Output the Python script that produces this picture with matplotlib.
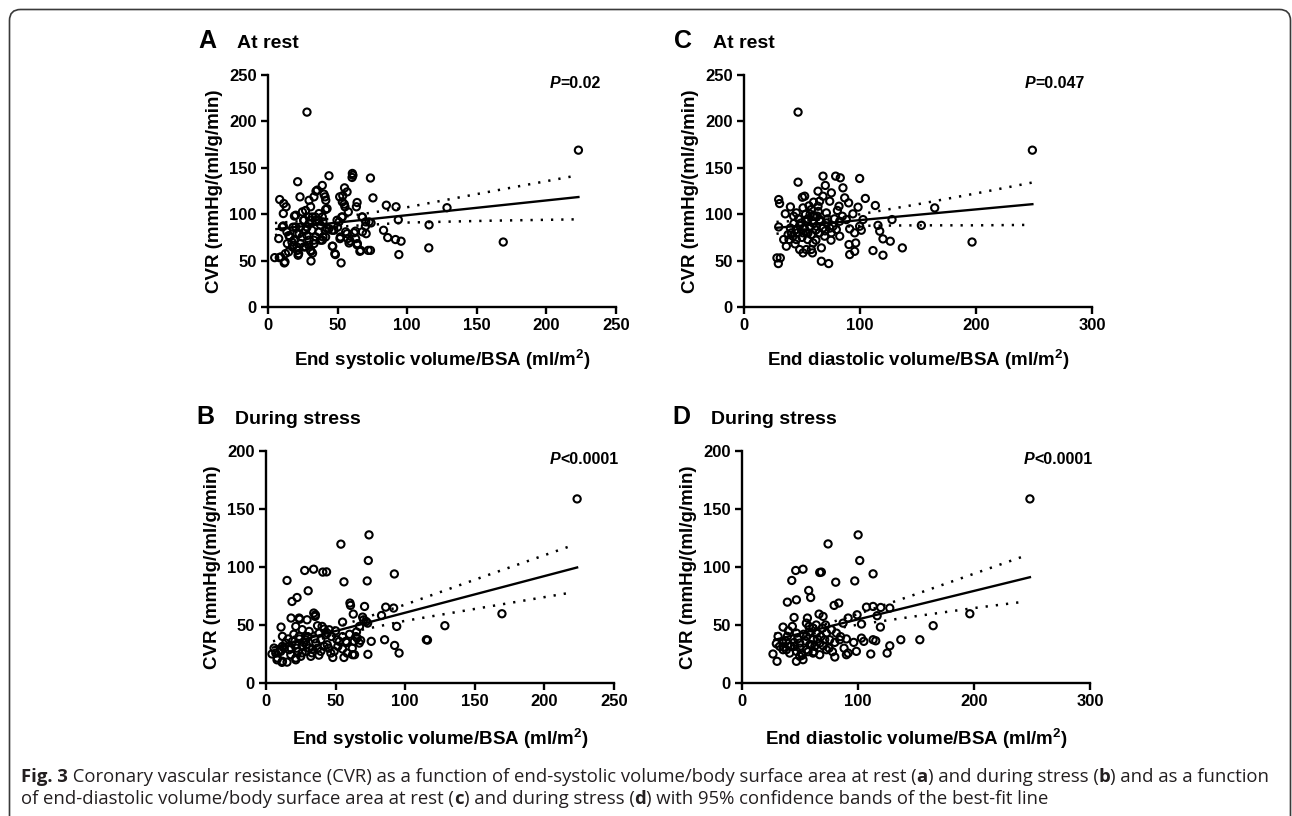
import matplotlib

matplotlib.use("Agg")

import matplotlib.pyplot as plt  # noqa: E402
import numpy as np  # noqa: E402
from matplotlib.patches import FancyBboxPatch  # noqa: E402
from matplotlib.transforms import IdentityTransform  # noqa: E402

plt.rcParams["font.family"] = ["Liberation Sans", "DejaVu Sans"]
plt.rcParams["mathtext.default"] = "regular"

W, H = 1292, 816

# ---- panel A: CVR at rest vs ESV/BSA ----
a_pts = [
    (28, 210), (223, 169), (169, 70), (128.6, 107), (115.7, 88.5), (115.5, 63.7), (94, 56.5),
    (95.6, 70.9), (93.6, 94), (92, 108), (91.6, 72.7), (85, 109.7), (86, 74.8), (83, 82.7),
    (75.4, 117.6), (73.6, 139), (73.6, 61), (72, 61), (74, 90.6), (70.5, 79), (70, 87),
    (67.6, 97), (64, 112.6), (63.5, 108), (62.8, 81.7), (66, 60), (64, 67), (61, 142),
    (60.4, 139.6), (56.8, 124), (55, 128.4), (53.7, 120), (51.5, 118.7), (54.8, 110.8),
    (57.7, 102.5), (53, 97), (56.8, 79), (59, 71), (57.2, 73.7), (52, 75.5), (50, 86),
    (52.5, 47.5), (48.4, 56.5), (46.5, 65.5), (43.8, 141.4), (42.4, 84.5), (39.5, 91.7),
    (39, 131), (41, 118.7), (41.5, 115), (42.4, 106), (39.5, 75.5), (37.7, 72), (39, 97),
    (34.5, 124.8), (33, 118.7), (30.6, 108), (29.5, 97), (27, 104), (23, 118.7), (21.3, 135),
    (19, 98), (18, 86), (25.6, 93.5), (30.6, 93.5), (31.6, 82.7), (29.2, 66.5), (30.9, 60),
    (32, 58), (30.9, 49.6), (22, 57.5), (20.8, 64.7), (17.2, 70), (14.8, 59.4), (12.5, 57.5),
    (11.7, 47.5), (8.4, 115.8), (11.3, 111.5), (13, 108), (11, 100.7), (11, 87.4), (7.7, 73.7),
    (4.8, 53.2), (8.1, 53.2), (13.6, 81), (15.6, 75.5), (20.8, 79), (24.4, 75.5), (23, 86),
    (28, 86), (34, 97), (36.4, 93.5), (28, 77), (33, 72), (41, 82.7), (46, 82.7), (49.6, 93.5),
    (18.4, 66.5), (25.6, 64.7), (60.6, 143.9), (35.4, 126), (40.2, 121.6), (29.5, 115),
    (53.4, 113.3), (55.3, 108), (41.4, 105), (36.6, 100.7), (24.7, 102.5), (19.9, 98.9),
    (25.9, 93.5), (31.9, 97), (67.8, 97), (70.2, 91.7), (72.6, 91.7), (53.4, 97), (51, 91.7),
    (47.4, 82.7), (43.8, 84.5), (37.8, 88), (34.3, 93.5), (29.5, 90), (10.3, 86.3), (19.9, 86.3),
    (22.3, 79), (27, 82.7), (15, 77), (18.7, 72), (13.9, 68.3), (17.5, 64.7), (21, 61),
    (23.5, 68.3), (29.5, 72), (34.3, 75.5), (39, 72), (36.6, 81), (55.8, 81), (61.8, 80),
    (63, 73.7), (67.8, 81), (64.2, 68.3), (58.2, 69), (51.7, 73.7), (46.2, 65.5), (48, 57.5),
    (66.6, 61), (30.7, 61), (21.6, 55.8), (9.1, 54), (12.2, 48.6), (27, 64.7), (33, 68.3),
    (41.4, 75.5),
]
a_fit_x = [6, 223]
a_fit_y = [84, 118.5]
a_band_x = [5, 45, 100, 160, 223]
a_upper = [90.5, 95, 107.5, 124.5, 142]
a_lower = [77.5, 86, 91, 93, 94.5]

# ---- panel B: CVR during stress vs ESV/BSA ----
b_pts = [
    (223.5, 158.7), (74, 127.7), (53.8, 119.7), (73.5, 105.6), (72.7, 88), (56, 87.2),
    (92.2, 94), (40.8, 95.6), (43.5, 95.8), (27.8, 97), (34.2, 98.1), (15.1, 88.4), (30.3, 79.5),
    (22.3, 73.7), (18.7, 70.3), (169.5, 59.7), (128.5, 49.4), (115.2, 37.3), (116, 37),
    (93.9, 48.8), (91.7, 64.6), (86, 65.4), (83, 58.2), (85.2, 37.3), (92.4, 32.4), (95.6, 25.8),
    (73.2, 24.7), (75.6, 35.9), (70.8, 66), (69.4, 56.8), (72, 53), (67.2, 48.8), (60.3, 68.9),
    (60.7, 66.9), (62.7, 59.4), (55, 52.5), (65.5, 38.7), (68, 36.7), (63.6, 24.4), (56, 22),
    (58.3, 25.8), (51.6, 31.6), (51, 37.3), (44, 43), (40.3, 48.8), (35.5, 58.8), (34.3, 60.3),
    (29.5, 54.5), (24.2, 55), (18, 56), (10.8, 48.2), (4.3, 25), (7.9, 20), (11.5, 17.8),
    (15.1, 18), (21.4, 20), (10.3, 28.7), (70.1, 54.5), (73, 51.6), (64.6, 40), (63.4, 35.9),
    (67, 34.4), (57.4, 35.9), (55, 40), (52.6, 35.9), (55, 29.3), (62.2, 24.4), (49, 27.3),
    (46.6, 25.8), (41.8, 31.6), (43, 41.6), (41.8, 46.5), (37, 49.4), (35.3, 57.4), (23.8, 56),
    (21.4, 48.8), (26, 46), (31, 44.5), (38.2, 43), (11.8, 40.2), (11.8, 31.6), (7, 25.8),
    (8.2, 21.5), (11.8, 18.7), (21.4, 21.5), (16.6, 28.7), (21.4, 33), (26.2, 31.6), (28.6, 27.3),
    (32.2, 23), (33.4, 29.3), (28.6, 37.3), (23.8, 40.2), (19, 35.9), (14.2, 34.4), (35.8, 34.4),
    (39.4, 37.3), (45.4, 45.9), (39.4, 27.3), (25, 23), (17.8, 24.4), (10.6, 27.3), (5.8, 30.1),
    (13, 30), (18, 30), (23, 27), (27, 35), (31, 30), (24, 38), (20, 42), (30, 40), (35, 38),
    (37, 30), (16, 38), (26, 26), (22, 30), (29, 33), (33, 26), (44, 33), (47, 40), (50, 45),
    (60, 42), (58, 35), (65, 44), (45, 30), (38, 24), (48, 22), (62, 30),
]
b_fit_x = [5, 223.5]
b_fit_y = [30.6, 99.6]
b_band_x = [5, 45, 100, 160, 221]
b_upper = [36, 46, 67.6, 93.3, 119]
b_lower = [25, 40, 53.6, 65.9, 78.3]

# ---- panel C: CVR at rest vs EDV/BSA ----
c_pts = [
    (46.6, 210), (248.6, 169), (196.6, 70), (164.4, 106.8), (152.9, 88), (136.5, 63.7),
    (127.6, 94.2), (126.1, 70.9), (119.8, 55.8), (119.8, 73.4), (117, 81.7), (115.5, 88),
    (113.2, 109.4), (111.2, 60.8), (104.6, 117), (102.6, 94.2), (99.7, 138.5), (99.7, 87),
    (101.1, 82.7), (98.3, 107.6), (95.4, 60), (96.3, 69), (95.4, 79.9), (91.1, 56.5),
    (90.5, 67.3), (91.1, 84.2), (93.9, 100.4), (90.2, 112.2), (86.8, 117.6), (85.3, 128.4),
    (83, 139.2), (79, 141), (81.9, 108.6), (80.5, 104), (84.8, 97.8), (82.5, 76.3), (75.3, 123),
    (73.9, 114), (70.1, 131), (68.1, 141), (68.1, 119.4), (63.8, 124.8), (65.2, 114),
    (66.7, 63.7), (66.7, 49.3), (73, 46.8), (59, 58.3), (52.3, 119.4), (50.3, 118.3),
    (50.9, 106.8), (46.6, 134.5), (45.1, 101.4), (42.8, 97.8), (40, 107.9), (35.6, 100.4),
    (29.9, 115.8), (30.7, 111.5), (29.9, 86.3), (34.2, 72.7), (36.5, 65.5), (28.4, 52.9),
    (31.3, 52.9), (29.6, 46.8), (40.8, 79.9), (45.1, 72.7), (48, 61.9), (50.9, 58.3),
    (53.7, 61.9), (56.6, 87), (59.5, 97.8), (53.7, 79.9), (62.4, 87), (65.2, 94.2), (71, 90.6),
    (76.7, 87), (75.3, 79.9), (69.5, 76.3), (59.5, 69), (54.9, 72.7), (50.9, 79.9), (45.1, 83.5),
    (42.2, 76.3), (38.8, 72.7), (79.6, 83.5), (82.5, 92.4), (88.2, 94.2), (71, 101.4),
    (58, 105), (60.9, 97.8), (63.8, 108.6), (55.2, 79.9), (49.4, 90.6), (55, 95), (57, 100),
    (60, 90), (62, 83), (65, 80), (58, 78), (52, 85), (48, 88), (46, 80), (68, 85), (72, 95),
    (70, 82), (66, 92), (63, 98), (54, 92), (50, 75), (44, 68), (40, 85), (38, 78), (58, 62),
    (62, 72), (75, 72), (78, 95), (74, 85), (56, 109), (60, 113), (64, 103), (47, 95), (43, 90),
    (53, 100),
]
c_fit_x = [28, 248.6]
c_fit_y = [85.3, 110.8]
c_band_x = [28, 65, 100, 150, 200, 248]
c_upper = [91.7, 94.1, 99.9, 110.8, 122.4, 134]
c_lower = [78.9, 85.1, 87.5, 88, 88, 88.5]

# ---- panel D: CVR during stress vs EDV/BSA ----
d_pts = [
    (248.2, 158.7), (196.4, 59.7), (164.8, 49.4), (153.3, 37.3), (136.9, 37.3), (127.4, 32.1),
    (125.1, 25.8), (127.4, 64.6), (119.6, 65.1), (119.3, 48.2), (116.5, 58), (113, 66),
    (113, 94.1), (115.3, 36.4), (113, 37.3), (111, 25), (107.3, 65.4), (101.5, 105.6),
    (100.1, 127.7), (97.2, 88), (99.2, 58.8), (103, 50.8), (103, 38.7), (105, 35.9),
    (98.6, 27.3), (91.5, 25.8), (90, 24.4), (96.3, 35), (91.5, 56), (87.1, 51.6), (84.3, 37.3),
    (83.4, 68.9), (79.4, 66.9), (80.8, 86.9), (80, 22.4), (74.2, 119.9), (68.4, 95.6),
    (67, 95.3), (69.9, 57.4), (66.4, 59.4), (69.3, 47.3), (59.2, 73.7), (57.5, 79.8),
    (56.4, 56), (57.8, 48.8), (52.6, 98.1), (46.3, 97), (42.9, 88.4), (46.9, 71.7), (39.1, 69.7),
    (44.9, 56.5), (43.4, 48.8), (35.4, 48.2), (39.1, 40.2), (29.6, 33.9), (26.7, 25),
    (30.2, 18.7), (46.9, 18.7), (52.6, 20.1), (61.3, 25.8), (67, 24.4), (72.8, 28.7),
    (75.6, 37.3), (81.4, 43), (61.3, 37.3), (55.5, 40.2), (49.8, 34.4), (45.3, 31.6),
    (38.3, 28.7), (35.4, 34.4), (41.1, 25.8), (55.5, 28.7), (58.4, 33), (64.1, 43), (67, 34.4),
    (71.3, 37.3), (51.2, 25.8), (46.9, 27.3), (35.4, 28.7), (32.5, 31.6), (62.7, 31.6),
    (72.8, 43), (77.1, 45.9), (46.9, 43), (55.5, 51.6), (61.3, 47.3), (31.1, 40.2), (49.8, 23),
    (45, 35), (50, 30), (55, 36), (60, 33), (65, 38), (70, 32), (53, 42), (58, 44), (48, 38),
    (42, 32), (38, 36), (62, 27), (68, 40), (75, 30), (80, 35), (85, 40), (90, 38), (78, 27),
    (57, 27), (52, 24), (36, 31), (40, 45), (64, 50), (72, 50), (88, 30),
]
d_fit_x = [28, 248.2]
d_fit_y = [37.2, 91.2]
d_band_x = [28, 68, 100, 150, 200, 245]
d_upper = [42.5, 49.5, 59.5, 76.6, 94.2, 110]
d_lower = [31.9, 44.5, 50.3, 57.6, 64.6, 70.3]

ESV_LABEL = "End systolic volume/BSA (ml/m$^{2}$)"
EDV_LABEL = "End diastolic volume/BSA (ml/m$^{2}$)"
Y_LABEL = "CVR (mmHg/(ml/g/min)"


def draw_panel(ax, pts, xmax, xstep, ymax, ystep, fit_x, fit_y, band_x, upper, lower,
               xlabel, xlab_y, ptext, pxy, pop):
    xs, ys = zip(*pts)
    ax.scatter(xs, ys, s=27, facecolors="none", edgecolors="black", linewidths=1.5,
               zorder=3, clip_on=False)
    ax.plot(fit_x, fit_y, color="black", lw=1.7, zorder=4)
    for band in (upper, lower):
        ax.plot(band_x, band, color="black", lw=1.8, ls=(0, (0.9, 3.2)), zorder=4)
    ax.set_xlim(0, xmax)
    ax.set_ylim(0, ymax)
    ax.set_xticks(np.arange(0, xmax + 1, xstep))
    ax.set_yticks(np.arange(0, ymax + 1, ystep))
    for s in ("top", "right"):
        ax.spines[s].set_visible(False)
    for s in ("left", "bottom"):
        ax.spines[s].set_linewidth(1.7)
    ax.tick_params(direction="out", length=5, width=1.7, labelsize=12, pad=3)
    for lab in ax.get_xticklabels() + ax.get_yticklabels():
        lab.set_fontweight("bold")
    ax.set_xlabel(xlabel, fontsize=13.5, fontweight="bold")
    ax.set_ylabel(Y_LABEL, fontsize=13.5, fontweight="bold")
    ax.xaxis.set_label_coords(0.5, xlab_y)
    ax.yaxis.set_label_coords(-0.128, 0.5)
    t = ax.text(pxy[0], pxy[1], pop + ptext, ha="right", va="bottom", fontsize=11.5,
                fontweight="bold")
    ax.annotate("P", xy=(0, 0), xycoords=t, ha="right", va="bottom", fontsize=11.5,
                fontweight="bold", fontstyle="italic")


fig = plt.figure(figsize=(W / 100, H / 100), dpi=100)

panels = [
    (268, 307, a_pts, 250, 50, 250, 50, a_fit_x, a_fit_y, a_band_x, a_upper, a_lower,
     ESV_LABEL, -0.177, "0.02", (239, 233), "=", "A", "At rest", 198, 47.5),
    (266, 683, b_pts, 250, 50, 200, 50, b_fit_x, b_fit_y, b_band_x, b_upper, b_lower,
     ESV_LABEL, -0.19, "0.0001", (253, 186), "<", "B", "During stress", 196, 423.5),
    (744, 307, c_pts, 300, 100, 250, 50, c_fit_x, c_fit_y, c_band_x, c_upper, c_lower,
     EDV_LABEL, -0.177, "0.047", (293.5, 233), "=", "C", "At rest", 674, 47.5),
    (742, 683, d_pts, 300, 100, 200, 50, d_fit_x, d_fit_y, d_band_x, d_upper, d_lower,
     EDV_LABEL, -0.19, "0.0001", (302.5, 186), "<", "D", "During stress", 672, 423.5),
]

for (left, bottom, pts, xmax, xstep, ymax, ystep, fx, fy, bx, up, lo, xl, xly, ptxt, pxy,
     pop, letter, title, lx, ly) in panels:
    ax = fig.add_axes((left / W, 1 - bottom / H, 348 / W, 232 / H))
    draw_panel(ax, pts, xmax, xstep, ymax, ystep, fx, fy, bx, up, lo, xl, xly, ptxt, pxy,
               pop)
    fig.text(lx / W, 1 - ly / H, letter, fontsize=18, fontweight="bold", va="baseline")
    fig.text((lx + 39) / W, 1 - ly / H, title, fontsize=14, fontweight="bold",
             va="baseline")

# caption
cap = fig.add_axes((0, 0, 1, 1))
cap.axis("off")
cap.set_xlim(0, W)
cap.set_ylim(H, 0)
CAP_FONT = ["Open Sans", "DejaVu Sans"]
CAP_SIZE = 13.3
lines = [
    [("Fig. 3", "bold"),
     (" Coronary vascular resistance (CVR) as a function of end-systolic volume/body "
      "surface area at rest (", "normal"), ("a", "bold"), (") and during stress (", "normal"),
     ("b", "bold"), (") and as a function", "normal")],
    [("of end-diastolic volume/body surface area at rest (", "normal"), ("c", "bold"),
     (") and during stress (", "normal"), ("d", "bold"),
     (") with 95% confidence bands of the best-fit line", "normal")],
]
for (ybase, segs) in zip((782, 804), lines):
    prev = None
    for txt, weight in segs:
        if prev is None:
            prev = cap.text(21, ybase, txt, fontsize=CAP_SIZE, family=CAP_FONT,
                            fontweight=weight, va="baseline", ha="left", color="#231f20")
        else:
            prev = cap.annotate(txt, xy=(1, 0), xycoords=prev, fontsize=CAP_SIZE,
                                family=CAP_FONT, fontweight=weight, va="bottom",
                                ha="left", color="#231f20")

# rounded frame around the figure
frame = FancyBboxPatch((9.5, -40), 1281, H - 9.5 + 40,
                       boxstyle="round,pad=0,rounding_size=11",
                       transform=IdentityTransform(), fill=False, lw=1.2, ec="#3a3a3a")
fig.add_artist(frame)

fig.savefig("out.png", dpi=100)
